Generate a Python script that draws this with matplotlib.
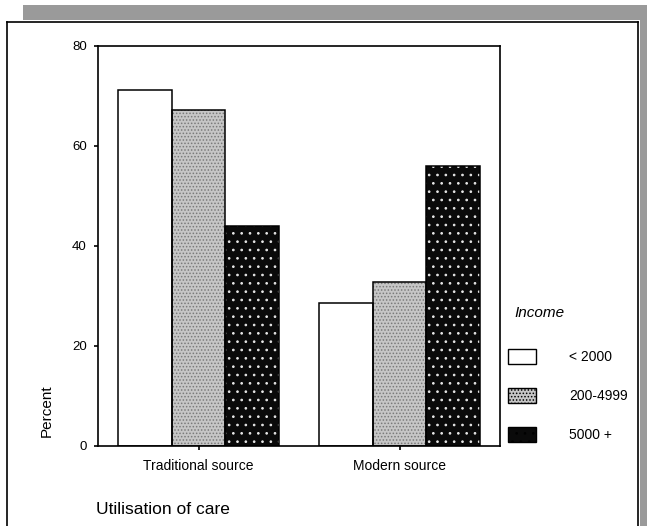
import matplotlib
matplotlib.use("Agg")
import matplotlib.pyplot as plt
from matplotlib.patches import Rectangle
from matplotlib.lines import Line2D
import numpy as np

plt.rcParams['font.family'] = ['Liberation Sans', 'DejaVu Sans']
plt.rcParams['hatch.linewidth'] = 0.7

categories = ["Traditional source", "Modern source"]
income_groups = ["< 2000", "200-4999", "5000 +"]
pct_lt2000 = [71.3, 28.7]
pct_200_4999 = [67.2, 32.8]
pct_5000plus = [44.0, 56.0]
series = [pct_lt2000, pct_200_4999, pct_5000plus]
y_ticks = [0, 20, 40, 60, 80]

styles = [
    dict(face='white', hatch=None, hcol='white'),
    dict(face='#c6c6c6', hatch='.....', hcol='#7a7a7a'),
    dict(face='#0a0a0a', hatch='..', hcol='#e8e8e8'),
]

fig = plt.figure(figsize=(6.47, 5.26), dpi=100)
ax = fig.add_axes([98/647, 1-446/526, 402/647, 400/526])

x = np.arange(len(categories))
w = 0.8 / 3
handles = []
for i, (vals, st) in enumerate(zip(series, styles)):
    pos = x + (i - 1) * w
    ax.bar(pos, vals, width=w, color=st['face'], hatch=st['hatch'],
           edgecolor=st['hcol'], linewidth=0, zorder=2)
    ax.bar(pos, vals, width=w, fill=False, edgecolor='black', linewidth=1.1, zorder=3)
    handles.append(Rectangle((0, 0), 1, 1, facecolor=st['face'], hatch=st['hatch'],
                             edgecolor='black', linewidth=1.0))

ax.set_xlim(-0.5, 1.5)
ax.set_ylim(0, 80)
ax.set_yticks(y_ticks)
ax.set_yticklabels([str(v) for v in y_ticks], fontsize=9.5)
ax.set_xticks(x)
ax.set_xticklabels(categories, fontsize=10)
ax.tick_params(axis='both', direction='out', length=3, width=1.2, color='black')
ax.tick_params(axis='y', pad=5)
ax.tick_params(axis='x', pad=6)
for s in ax.spines.values():
    s.set_linewidth(1.2)
    s.set_color('black')

fig.text(47/647, 1-411/526, "Percent", rotation=90, fontsize=11,
         ha='center', va='center')
fig.text(96/647, 1-510/526, "Utilisation of care", fontsize=12.5,
         ha='left', va='center')

fig.text(514/647, 1-313/526, "Income", fontsize=11, fontstyle='italic',
         ha='left', va='center')
leg = ax.legend(handles, income_groups, loc='upper left',
                bbox_to_anchor=(508/647, 1-349/526), bbox_transform=fig.transFigure,
                frameon=False, fontsize=10, borderaxespad=0, borderpad=0,
                handlelength=2.0, handleheight=1.3, handletextpad=2.4,
                labelspacing=1.7)

# page frame and scan border
fig.patches.append(Rectangle((23/647, 1-20/526), 1, 15/526, transform=fig.transFigure,
                             facecolor='#9a9a9a', edgecolor='none', zorder=0))
fig.patches.append(Rectangle((640/647, 0), 7/647, 1-20/526, transform=fig.transFigure,
                             facecolor='#9a9a9a', edgecolor='none', zorder=0))
top = 1-22/526
fig.lines.append(Line2D([7/647, 7/647], [0, top], transform=fig.transFigure, color='black', lw=1.2))
fig.lines.append(Line2D([7/647, 638/647], [top, top], transform=fig.transFigure, color='black', lw=1.2))
fig.lines.append(Line2D([638/647, 638/647], [0, top], transform=fig.transFigure, color='black', lw=1.2))

fig.savefig("out.png", dpi=100)
